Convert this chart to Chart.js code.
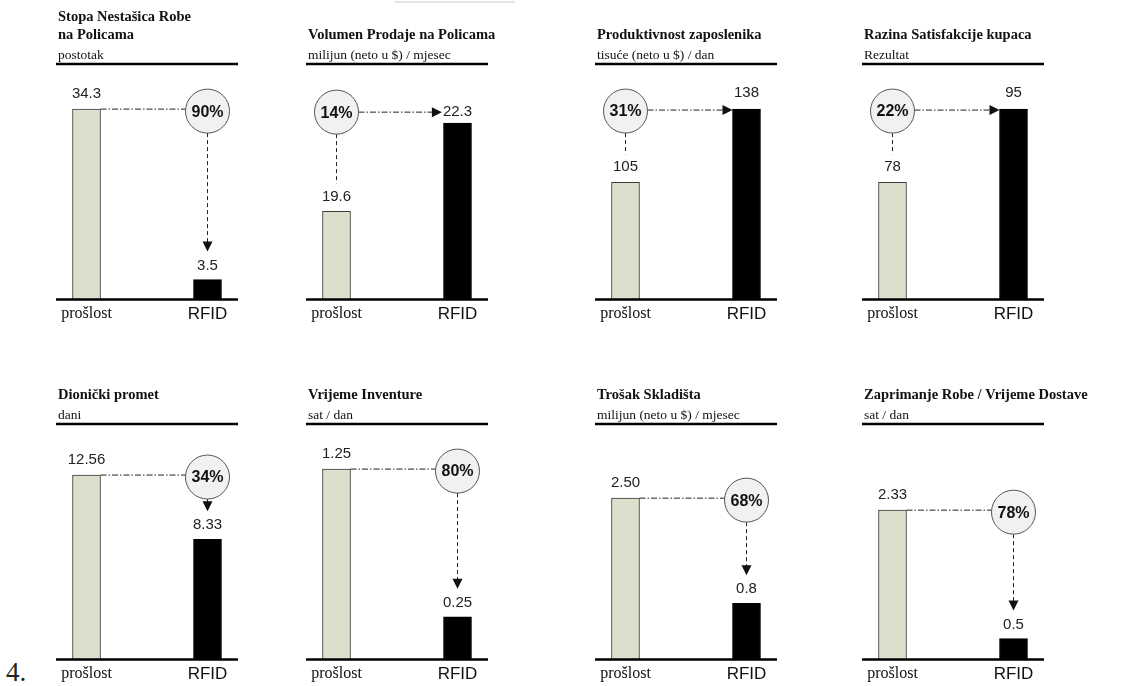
<!DOCTYPE html>
<html>
<head>
<meta charset="utf-8">
<script src="https://cdn.jsdelivr.net/npm/chart.js@4.4.0/dist/chart.umd.min.js"></script>
<style>
html, body { margin: 0; padding: 0; background: #fff; }
body { width: 1137px; height: 686px; position: relative; overflow: hidden; }
.panel { position: absolute; width: 290px; height: 330px; }
.note { position: absolute; left: 6px; top: 657px; font: 27px "Liberation Serif", "Times New Roman", serif; color: #222; }
.strip { position: absolute; left: 395px; top: 1px; width: 120px; height: 2px; background: #e4e4e4; }
</style>
</head>
<body>
<div class="strip"></div>
<div class="note">4.</div>
<script>
// chart data
const categories = ['prošlost', 'RFID'];
const titles = [
    ['Stopa Nestašica Robe', 'na Policama'],
    ['Volumen Prodaje na Policama'],
    ['Produktivnost zaposlenika'],
    ['Razina Satisfakcije kupaca'],
    ['Dionički promet'],
    ['Vrijeme Inventure'],
    ['Trošak Skladišta'],
    ['Zaprimanje Robe / Vrijeme Dostave']
];
const subtitles = [
    'postotak',
    'milijun (neto u $) / mjesec',
    'tisuće (neto u $) / dan',
    'Rezultat',
    'dani',
    'sat / dan',
    'milijun (neto u $) / mjesec',
    'sat / dan'
];
const pastValues = [34.3, 19.6, 105, 78, 12.56, 1.25, 2.50, 2.33];
const rfidValues = [3.5, 22.3, 138, 95, 8.33, 0.25, 0.8, 0.5];
const pastDecimals = [1, 1, 0, 0, 2, 2, 2, 2];
const rfidDecimals = [1, 1, 0, 0, 2, 2, 1, 1];
const changeLabels = ['90%', '14%', '31%', '22%', '34%', '80%', '68%', '78%'];
// value axis range of each panel
const axisMin = [-0.12, 16.9, 52.1, 50.75, 0.4, -0.04, -0.11, 0.2];
const axisMax = [39.56, 23.62, 151.1, 101.75, 14.87, 1.447, 3.44, 3.33];
// panel whose RFID value sits beside the arrow
const sideLabelPanels = [1];

const SERIF = '"Liberation Serif", "Times New Roman", serif';
const SANS = '"Liberation Sans", Arial, sans-serif';
const colCenters = [147, 396.5, 685.5, 952.5];
const rowTops = [0, 360];
const R = 22;

function dashLine(ctx, xa, ya, xb, yb, dash) {
    ctx.save();
    ctx.setLineDash(dash);
    ctx.beginPath();
    ctx.moveTo(xa, ya);
    ctx.lineTo(xb, yb);
    ctx.stroke();
    ctx.restore();
}

function arrowHead(ctx, x, y, dir) {
    ctx.beginPath();
    if (dir === 'down') {
        ctx.moveTo(x, y);
        ctx.lineTo(x - 5, y - 10);
        ctx.lineTo(x + 5, y - 10);
    } else {
        ctx.moveTo(x, y);
        ctx.lineTo(x - 10, y - 5);
        ctx.lineTo(x - 10, y + 5);
    }
    ctx.closePath();
    ctx.fill();
}

function badge(ctx, x, y, text) {
    ctx.beginPath();
    ctx.arc(x, y, R, 0, Math.PI * 2);
    ctx.fillStyle = '#f1f1f1';
    ctx.fill();
    ctx.lineWidth = 1;
    ctx.strokeStyle = '#555';
    ctx.stroke();
    ctx.fillStyle = '#111';
    ctx.font = 'bold 16px ' + SANS;
    ctx.textAlign = 'center';
    ctx.textBaseline = 'middle';
    ctx.fillText(text, x, y + 1);
}

function valueText(ctx, text, x, y) {
    ctx.fillStyle = '#222';
    ctx.font = '15px ' + SANS;
    ctx.textAlign = 'center';
    ctx.textBaseline = 'middle';
    ctx.fillText(text, x, y);
}

const panelPlugin = {
    id: 'rfidPanel',
    afterDatasetsDraw(chart, args, opts) {
        const i = opts.index;
        const ctx = chart.ctx;
        const area = chart.chartArea;
        const cx = (area.left + area.right) / 2;
        const x0 = cx - 91, x1 = cx + 91;
        const bars = chart.getDatasetMeta(0).data;
        const past = bars[0], rfid = bars[1];
        const pastText = pastValues[i].toFixed(pastDecimals[i]);
        const rfidText = rfidValues[i].toFixed(rfidDecimals[i]);
        ctx.save();

        // heading
        ctx.fillStyle = '#111';
        ctx.textAlign = 'left';
        ctx.textBaseline = 'alphabetic';
        ctx.font = 'bold 14.5px ' + SERIF;
        const lines = titles[i];
        lines.forEach((t, k) => ctx.fillText(t, x0 + 2, 39 - (lines.length - 1 - k) * 18));
        ctx.font = '13.5px ' + SERIF;
        ctx.fillText(subtitles[i], x0 + 2, 59);

        // rules
        ctx.strokeStyle = '#000';
        ctx.lineWidth = 2.5;
        ctx.beginPath();
        ctx.moveTo(x0, 64);
        ctx.lineTo(x1, 64);
        ctx.moveTo(x0, area.bottom);
        ctx.lineTo(x1, area.bottom);
        ctx.stroke();

        // change annotation
        ctx.lineWidth = 1;
        ctx.strokeStyle = '#222';
        ctx.fillStyle = '#111';
        const dashDot = [6, 2, 1.5, 2];
        if (rfidValues[i] < pastValues[i]) {
            const bx = rfid.x, by = past.y + 2;
            dashLine(ctx, past.x + past.width / 2, past.y, bx - R, past.y, dashDot);
            const tipY = rfid.y - 28;
            dashLine(ctx, bx, by + R, bx, tipY - 9, [4, 3]);
            arrowHead(ctx, bx, tipY, 'down');
            badge(ctx, bx, by, changeLabels[i]);
            valueText(ctx, pastText, past.x, past.y - 15);
            valueText(ctx, rfidText, rfid.x, rfid.y - 14);
        } else {
            const side = sideLabelPanels.includes(i);
            const bx = past.x;
            const by = side ? rfid.y - 11 : rfid.y + 2;
            ctx.font = '15px ' + SANS;
            const tipX = side ? rfid.x - ctx.measureText(rfidText).width / 2 - 1 : rfid.x - rfid.width / 2;
            const ay = side ? by : rfid.y + 1;
            dashLine(ctx, bx + R, ay, tipX - 9, ay, dashDot);
            arrowHead(ctx, tipX, ay, 'right');
            dashLine(ctx, bx, by + R, bx, past.y - 28, [4, 3]);
            badge(ctx, bx, by, changeLabels[i]);
            valueText(ctx, pastText, past.x, past.y - 15);
            valueText(ctx, rfidText, rfid.x, side ? by : rfid.y - 16);
        }
        ctx.restore();
    }
};

pastValues.forEach((v, i) => {
    const box = document.createElement('div');
    box.className = 'panel';
    box.style.left = (colCenters[i % 4] - 145) + 'px';
    box.style.top = rowTops[Math.floor(i / 4)] + 'px';
    const canvas = document.createElement('canvas');
    box.appendChild(canvas);
    document.body.appendChild(box);

    new Chart(canvas.getContext('2d'), {
        type: 'bar',
        data: {
            labels: categories,
            datasets: [{
                data: [pastValues[i], rfidValues[i]],
                backgroundColor: ['#dcdfcb', '#000'],
                borderColor: ['#3a3a3a', '#000'],
                borderWidth: 1,
                barThickness: 28,
                base: axisMin[i]
            }]
        },
        options: {
            responsive: true,
            maintainAspectRatio: false,
            animation: false,
            layout: { padding: { top: 80, left: 24, right: 24, bottom: 0 } },
            plugins: {
                legend: { display: false },
                tooltip: { enabled: false },
                rfidPanel: { index: i }
            },
            scales: {
                x: {
                    grid: { display: false, drawTicks: false },
                    border: { display: false },
                    ticks: {
                        padding: 5,
                        color: '#111',
                        font: c => c.index === 0 ? { family: SERIF, size: 16 } : { family: SANS, size: 17 }
                    }
                },
                y: { display: false, min: axisMin[i], max: axisMax[i] }
            }
        },
        plugins: [panelPlugin]
    });
});
</script>
</body>
</html>
